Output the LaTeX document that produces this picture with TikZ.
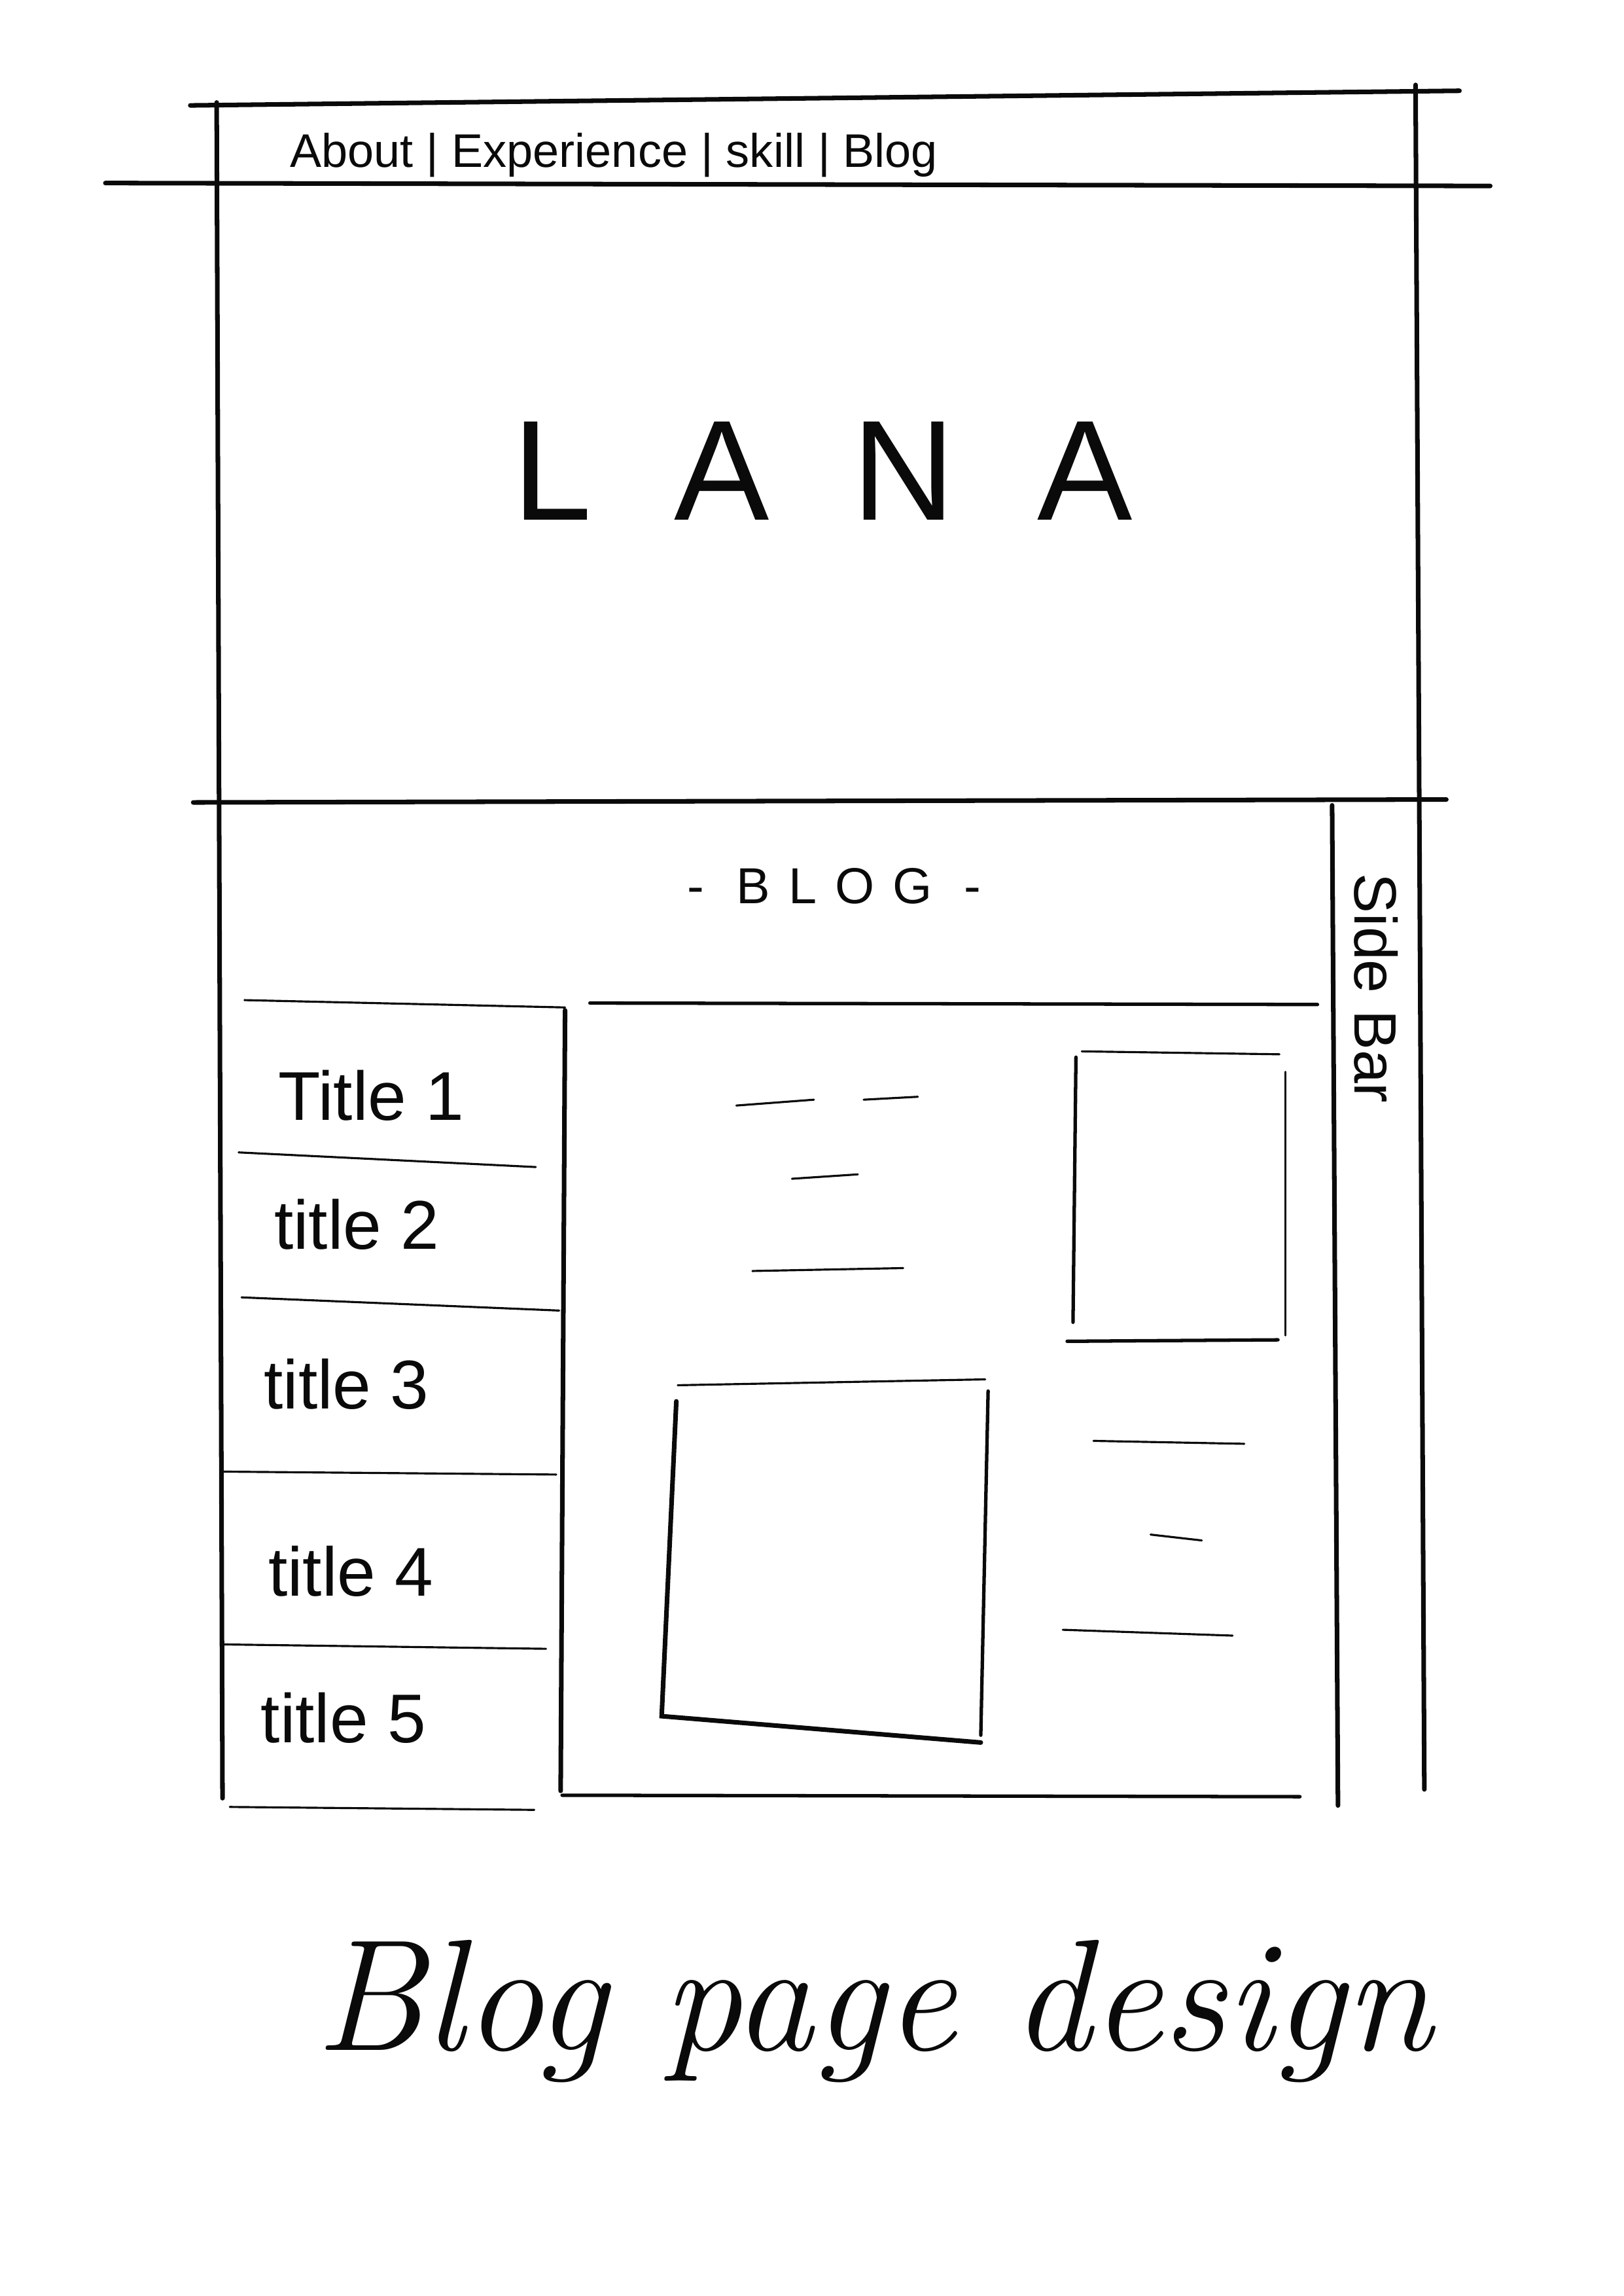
\documentclass[tikz,border=0pt]{standalone}
\usepackage{fontspec}
\setsansfont{Liberation Sans}
\usepackage{tikz}
\usetikzlibrary{positioning}
\definecolor{ink}{HTML}{0A0A0A}
\tikzset{
  frame/.style={draw=ink, line width=2pt, line cap=round},
  boxln/.style={draw=ink, line width=1.5pt, line cap=round},
  rule/.style={draw=ink, line width=0.9pt, line cap=round},
  hand/.style={text=ink, inner sep=0pt, font=\sffamily},
}

\begin{document}
\begin{tikzpicture}[x=0.022363cm, y=-0.022363cm]
\useasboundingbox (0,0) rectangle (1109,1568);

% page frame
\draw[frame] (130,72) -- (997,62);
\draw[frame] (72,125) -- (1018,127);
\draw[frame] (148,70) -- (152,1228);
\draw[frame] (967,58) -- (973,1222);
\draw[frame] (132,548) -- (988,546);
\draw[frame] (910,550) -- (914,1233);

\node[hand, anchor=base west, font=\sffamily\fontsize{20.5}{22}\selectfont] (nav) at (198,114)
  {About | Experience | skill | Blog};
\node[hand, anchor=base, font=\sffamily\fontsize{62}{70}\selectfont\addfontfeature{LetterSpace=58}] (logo) at (562,355) {LANA};

% blog section
\node[hand, anchor=base, font=\sffamily\fontsize{22}{26}\selectfont\addfontfeature{LetterSpace=36}] (blogHead) at (570,617) {- BLOG -};
\node[hand, rotate=-90, font=\sffamily\fontsize{26}{30}\selectfont] (sideLbl) at (940,675) {Side Bar};

% title list
\draw[rule] (167,683) -- (386,688);
\draw[frame] (386,690) -- (383,1223);
\draw[rule] (163,787) -- (366,797);
\draw[rule] (165,886) -- (382,895);
\draw[rule] (152,1005) -- (380,1007);
\draw[rule] (152,1123) -- (373,1126);
\draw[rule] (157,1234) -- (365,1236);
\node[hand, anchor=base west, font=\sffamily\fontsize{30}{34}\selectfont] (t1) at (190,765) {Title 1};
\node[hand, anchor=base west, font=\sffamily\fontsize{30}{34}\selectfont] (t2) at (187,853) {title 2};
\node[hand, anchor=base west, font=\sffamily\fontsize{30}{34}\selectfont] (t3) at (180,962) {title 3};
\node[hand, anchor=base west, font=\sffamily\fontsize{30}{34}\selectfont] (t4) at (183,1090) {title 4};
\node[hand, anchor=base west, font=\sffamily\fontsize{30}{34}\selectfont] (t5) at (178,1190) {title 5};

% post area
\draw[boxln] (403,685) -- (900,686);
\draw[boxln] (384,1226) -- (888,1227);
\draw[rule] (503,755) -- (556,751);
\draw[rule] (590,751) -- (627,749);
\draw[rule] (541,805) -- (586,802);
\draw[rule] (514,868) -- (617,866);
\draw[rule] (747,984) -- (850,986);
\draw[rule] (786,1048) -- (821,1052);
\draw[rule] (726,1113) -- (842,1117);

% image boxes
\draw[rule] (739,718) -- (874,720);
\draw[boxln] (735,722) -- (733,903);
\draw[rule] (878,732) -- (878,912);
\draw[boxln] (729,916) -- (873,915);
\draw[rule] (463,946) -- (673,942);
\draw[frame] (462,957) -- (452,1172) -- (670,1190);
\draw[boxln] (675,950) -- (670,1185);

\node[hand, anchor=base west, font=\itshape\fontsize{69}{74}\selectfont] (caption) at (215,1400) {Blog page design};
\end{tikzpicture}
\end{document}
